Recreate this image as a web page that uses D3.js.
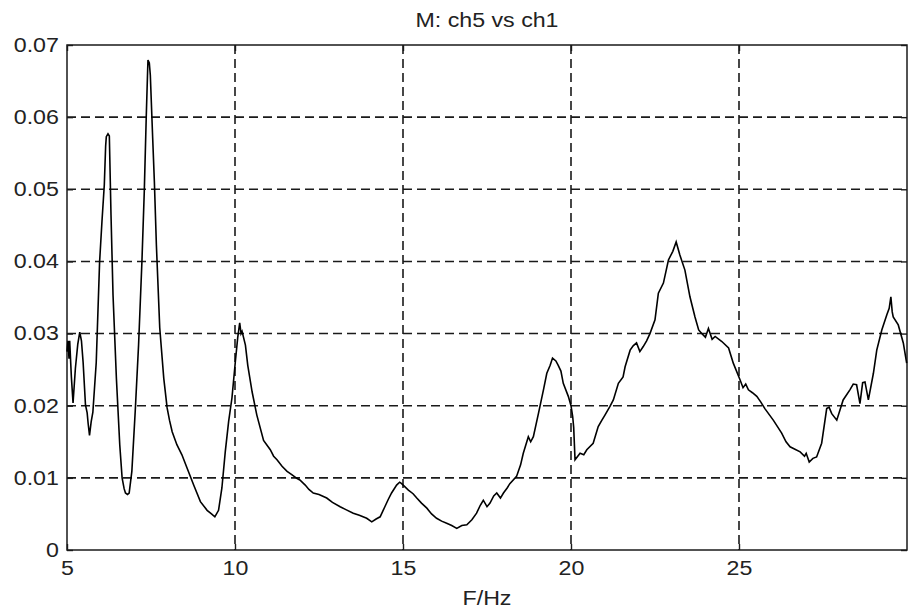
<!DOCTYPE html>
<html>
<head>
<meta charset="utf-8">
<script src="https://cdn.jsdelivr.net/npm/d3@7"></script>
<style>
  body { margin: 0; background: #fff; }
  text { font-family: "Liberation Sans", Arial, sans-serif; fill: #222; }
</style>
</head>
<body>
<div id="chart"></div>
<script>
const width = 916;
const height = 615;

// frequency (Hz) and magnitude
const freq = [
  5.00, 5.03, 5.06, 5.08, 5.13, 5.18, 5.25, 5.32, 5.38, 5.43, 5.48, 5.55, 5.60, 5.63, 5.67, 5.72, 5.77, 5.87, 5.97,
  6.04, 6.11, 6.15, 6.17, 6.22, 6.26, 6.31, 6.37, 6.47, 6.57, 6.64, 6.70, 6.74, 6.80, 6.85, 6.93,
  7.03, 7.13, 7.23, 7.30, 7.36, 7.40, 7.41, 7.45, 7.48, 7.55, 7.60, 7.66, 7.76, 7.88, 7.98,
  8.05, 8.13, 8.27, 8.42, 8.57, 8.77, 8.97, 9.17, 9.30, 9.40, 9.51, 9.61, 9.71, 9.81, 9.91,
  10.01, 10.08, 10.14, 10.18, 10.21, 10.31, 10.38, 10.51, 10.65, 10.85, 11.05, 11.15, 11.25, 11.40, 11.55, 11.70, 11.85, 11.93,
  12.09, 12.20, 12.33, 12.50, 12.73, 12.90, 13.13, 13.30, 13.52, 13.70, 13.92, 14.07, 14.20, 14.32, 14.46, 14.56, 14.66, 14.81, 14.90, 14.96,
  15.16, 15.30, 15.41, 15.55, 15.71, 15.85, 16.00, 16.15, 16.30, 16.45, 16.60, 16.75, 16.90, 17.05, 17.19, 17.30, 17.39, 17.50, 17.59, 17.70, 17.79, 17.90, 17.99,
  18.10, 18.18, 18.38, 18.50, 18.58, 18.73, 18.80, 18.88, 19.03, 19.18, 19.28, 19.38, 19.45, 19.55, 19.62, 19.70, 19.77, 19.92,
  20.00, 20.05, 20.08, 20.12, 20.27, 20.38, 20.47, 20.66, 20.81, 20.92, 21.01, 21.16, 21.26, 21.41, 21.55, 21.61, 21.76, 21.85, 21.95,
  22.05, 22.15, 22.25, 22.35, 22.50, 22.60, 22.75, 22.90, 23.03, 23.13, 23.24, 23.39, 23.54, 23.69, 23.80, 23.89,
  24.00, 24.09, 24.20, 24.29, 24.49, 24.69, 24.83, 25.03, 25.12, 25.20, 25.28, 25.40, 25.53, 25.65, 25.77,
  26.02, 26.27, 26.40, 26.52, 26.65, 26.82, 26.95, 27.00, 27.09, 27.20, 27.31, 27.46, 27.61, 27.68, 27.76, 27.91,
  28.10, 28.30, 28.40, 28.50, 28.60, 28.68, 28.75, 28.85, 29.00, 29.10, 29.25, 29.40, 29.47, 29.52, 29.56, 29.59, 29.74, 29.89, 29.99
];
const mag = [
  0.0275, 0.0290, 0.0265, 0.0290, 0.0240, 0.0204, 0.0252, 0.0285, 0.0302, 0.0290, 0.0260, 0.0201, 0.0190, 0.0175, 0.0159, 0.0178, 0.0191, 0.0260, 0.0399,
  0.0455, 0.0506, 0.0560, 0.0573, 0.0577, 0.0574, 0.0464, 0.0353, 0.0238, 0.0146, 0.0100, 0.0085, 0.0079, 0.0077, 0.0079, 0.0109,
  0.0192, 0.0284, 0.0400, 0.0497, 0.0603, 0.0665, 0.0679, 0.0675, 0.0658, 0.0571, 0.0511, 0.0423, 0.0308, 0.0238, 0.0197,
  0.0180, 0.0164, 0.0146, 0.0132, 0.0114, 0.0090, 0.0067, 0.0055, 0.0050, 0.0046, 0.0055, 0.0086, 0.0136, 0.0178, 0.0211,
  0.0261, 0.0294, 0.0315, 0.0300, 0.0303, 0.0284, 0.0256, 0.0219, 0.0187, 0.0152, 0.0139, 0.0130, 0.0125, 0.0116, 0.0109, 0.0104, 0.0099, 0.0097,
  0.0090, 0.0084, 0.0079, 0.0077, 0.0072, 0.0066, 0.0060, 0.0056, 0.0051, 0.0048, 0.0044, 0.0039, 0.0043, 0.0046, 0.0060, 0.0070, 0.0079, 0.0090, 0.0094, 0.0092,
  0.0083, 0.0078, 0.0072, 0.0065, 0.0058, 0.0050, 0.0044, 0.0040, 0.0037, 0.0034, 0.0030, 0.0034, 0.0035, 0.0042, 0.0051, 0.0062, 0.0069, 0.0060, 0.0065, 0.0075, 0.0079, 0.0072, 0.0079,
  0.0086, 0.0092, 0.0102, 0.0118, 0.0134, 0.0157, 0.0150, 0.0157, 0.0189, 0.0222, 0.0245, 0.0256, 0.0266, 0.0262, 0.0256, 0.0248, 0.0231, 0.0213,
  0.0200, 0.0185, 0.0170, 0.0125, 0.0134, 0.0132, 0.0139, 0.0148, 0.0171, 0.0180, 0.0187, 0.0199, 0.0208, 0.0231, 0.0240, 0.0254, 0.0277, 0.0283, 0.0287,
  0.0275, 0.0282, 0.0290, 0.0300, 0.0319, 0.0356, 0.0370, 0.0402, 0.0414, 0.0427, 0.0409, 0.0388, 0.0351, 0.0323, 0.0305, 0.0300,
  0.0295, 0.0307, 0.0292, 0.0296, 0.0289, 0.0280, 0.0259, 0.0236, 0.0225, 0.0230, 0.0222, 0.0218, 0.0213, 0.0205, 0.0196,
  0.0180, 0.0162, 0.0150, 0.0143, 0.0140, 0.0136, 0.0130, 0.0134, 0.0122, 0.0127, 0.0129, 0.0148, 0.0196, 0.0198, 0.0189, 0.0180,
  0.0208, 0.0222, 0.0230, 0.0229, 0.0203, 0.0232, 0.0233, 0.0208, 0.0245, 0.0277, 0.0305, 0.0326, 0.0335, 0.0351, 0.0330, 0.0323, 0.0312, 0.0287, 0.0259
];

const xTicks = [5, 10, 15, 20, 25];
const yTicks = [0, 0.01, 0.02, 0.03, 0.04, 0.05, 0.06, 0.07];

const margin = { top: 45, right: 9, bottom: 65, left: 67 };
const plotW = width - margin.left - margin.right;
const plotH = height - margin.top - margin.bottom;
const stretch = 'scale(1.16,1)';
const ink = '#1a1a1a';

const svg = d3.select('#chart')
  .append('svg')
  .attr('width', width)
  .attr('height', height);

const g = svg.append('g')
  .attr('transform', `translate(${margin.left},${margin.top})`);

const x = d3.scaleLinear().domain([5, 30]).range([0, plotW]);
const y = d3.scaleLinear().domain([0, 0.07]).range([plotH, 0]);

// dashed grid
g.selectAll('.vgrid')
  .data(xTicks.filter(d => d > 5))
  .enter()
  .append('line')
  .attr('x1', d => x(d)).attr('x2', d => x(d))
  .attr('y1', 0).attr('y2', plotH)
  .attr('stroke', ink)
  .attr('stroke-width', 1.6)
  .attr('stroke-dasharray', '9,5');

g.selectAll('.hgrid')
  .data(yTicks.filter(d => d > 0 && d < 0.07))
  .enter()
  .append('line')
  .attr('x1', 0).attr('x2', plotW)
  .attr('y1', d => y(d)).attr('y2', d => y(d))
  .attr('stroke', ink)
  .attr('stroke-width', 1.6)
  .attr('stroke-dasharray', '9,5');

// axes (ticks point inward)
const xAxis = g.append('g')
  .attr('transform', `translate(0,${plotH})`)
  .call(d3.axisBottom(x).tickValues(xTicks).tickSize(-6).tickPadding(11).tickFormat(d3.format('d')));

const yAxis = g.append('g')
  .call(d3.axisLeft(y).tickValues(yTicks).tickSize(-6).tickPadding(7).tickFormat(d => d === 0 ? '0' : d3.format('.2f')(d)));

g.append('g')
  .call(d3.axisTop(x).tickValues(xTicks).tickSize(-6).tickFormat(''));
g.append('g')
  .attr('transform', `translate(${plotW},0)`)
  .call(d3.axisRight(y).tickValues(yTicks).tickSize(-6).tickFormat(''));

g.selectAll('.domain').remove();
g.selectAll('.tick line').attr('stroke', ink).attr('stroke-width', 1.4);

[xAxis, yAxis].forEach(a => a.selectAll('text')
  .style('font-size', '20px')
  .style('font-family', '"Liberation Sans", Arial, sans-serif')
  .attr('fill', '#222')
  .attr('transform', stretch));

// frame
g.append('rect')
  .attr('width', plotW)
  .attr('height', plotH)
  .attr('fill', 'none')
  .attr('stroke', ink)
  .attr('stroke-width', 1.5);

// curve
const line = d3.line()
  .x((d, i) => x(freq[i]))
  .y(d => y(d));

g.append('path')
  .datum(mag)
  .attr('d', line)
  .attr('fill', 'none')
  .attr('stroke', '#000')
  .attr('stroke-width', 1.6)
  .attr('stroke-linejoin', 'miter');

// title and axis label
svg.append('text')
  .attr('transform', `translate(${margin.left + plotW / 2},27) ${stretch}`)
  .attr('text-anchor', 'middle')
  .style('font-size', '20px')
  .text('M: ch5 vs ch1');

svg.append('text')
  .attr('transform', `translate(${margin.left + plotW / 2},605) ${stretch}`)
  .attr('text-anchor', 'middle')
  .style('font-size', '20px')
  .text('F/Hz');
</script>
</body>
</html>
